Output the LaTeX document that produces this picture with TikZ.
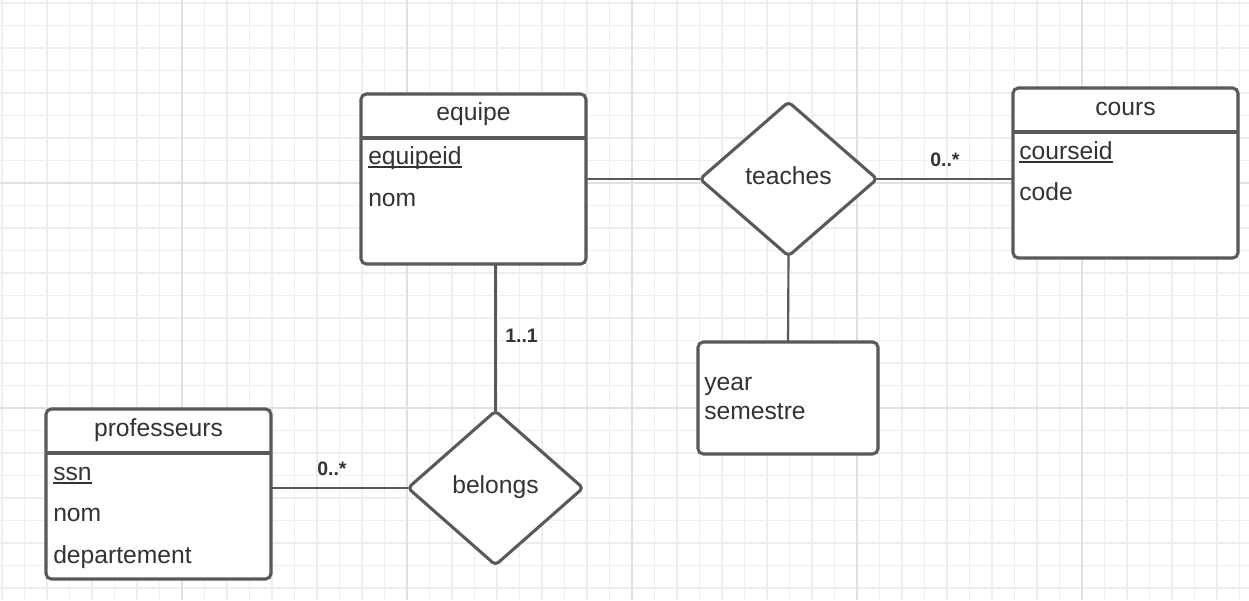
\documentclass[tikz,border=0pt]{standalone}
\usepackage{fontspec}
\setmainfont{Liberation Sans}
\usetikzlibrary{shapes.geometric}
\definecolor{edgegray}{HTML}{595959}
\definecolor{txtgray}{HTML}{333333}
\definecolor{gridminor}{HTML}{EEEEEE}
\definecolor{gridmajor}{HTML}{E0E0E0}

\begin{document}
\begin{tikzpicture}[x=0.75pt,y=-0.75pt,
  entity/.style={draw=edgegray, line width=2.3pt, fill=white, rounded corners=4pt,
    inner sep=0pt, outer sep=0pt, minimum width=168.75pt, minimum height=127.5pt},
  rel/.style={diamond, draw=edgegray, line width=2.3pt, fill=white, rounded corners=3pt,
    inner sep=0pt, outer sep=0pt, minimum height=115.5pt},
  txt/.style={text=txtgray, font=\fontsize{18.5}{22}\selectfont, inner sep=0pt},
  card/.style={text=txtgray, font=\fontsize{14.6}{16}\selectfont\bfseries, inner sep=0pt},
  link/.style={draw=edgegray, line width=1.6pt},
  key/.style={draw=txtgray, line width=1.1pt}]
  \useasboundingbox (0,0) rectangle (1249,600);
  \foreach \i in {0,...,55} \draw[gridminor, line width=1pt] (2+22.5*\i,0) -- (2+22.5*\i,600);
  \foreach \j in {0,...,26} \draw[gridminor, line width=1pt] (0,3+22.5*\j) -- (1249,3+22.5*\j);
  \foreach \i in {8,18,28,38,48} \draw[gridmajor, line width=1.3pt] (2+22.5*\i,0) -- (2+22.5*\i,600);
  \foreach \j in {8,18} \draw[gridmajor, line width=1.3pt] (0,3+22.5*\j) -- (1249,3+22.5*\j);

  \node[entity] (equipe) at (473.5,179) {};
  \node[entity] (cours) at (1125.5,173) {};
  \node[entity] (professeurs) at (158.5,494) {};
  \node[entity, minimum width=135pt, minimum height=84pt] (attrs) at (788,398) {};
  \node[rel, minimum width=132.75pt] (teaches) at (788.5,179) {};
  \node[rel, minimum width=131.25pt] (belongs) at (495.5,488) {};
  \foreach \e in {equipe,cours,professeurs}
    \draw[edgegray, line width=2.3pt] ([yshift=-33pt]\e.north west) -- ([yshift=-33pt]\e.north east);

  \node[txt, anchor=base] (equipe-t) at (473.5,120) {equipe};
  \node[txt, anchor=base west] (equipe-a1) at (368,164) {equipeid};
  \node[txt, anchor=base west] (equipe-a2) at (368,206) {nom};
  \node[txt, anchor=base] (cours-t) at (1125.5,115) {cours};
  \node[txt, anchor=base west] (cours-a1) at (1019,159) {courseid};
  \node[txt, anchor=base west] (cours-a2) at (1019,200) {code};
  \node[txt, anchor=base] (professeurs-t) at (158.5,436) {professeurs};
  \node[txt, anchor=base west] (professeurs-a1) at (53,480) {ssn};
  \node[txt, anchor=base west] (professeurs-a2) at (53,521) {nom};
  \node[txt, anchor=base west] (professeurs-a3) at (53,563) {departement};
  \node[txt, anchor=base west] (attrs-a1) at (704,390) {year};
  \node[txt, anchor=base west] (attrs-a2) at (704,419) {semestre};
  \node[txt, anchor=base] (teaches-t) at (788.5,184) {teaches};
  \node[txt, anchor=base] (belongs-t) at (495.5,493) {belongs};
  \foreach \k in {equipe-a1,cours-a1,professeurs-a1}
    \draw[key] ([yshift=-2.2pt]\k.base west) -- ([yshift=-2.2pt]\k.base east);

  \draw[link] (equipe.east |- teaches.west) -- (teaches.west);
  \draw[link] (teaches.east) -- (teaches.east -| cours.west);
  \draw[link] (teaches.south) -- (attrs.north);
  \draw[link] (belongs.north) -- (belongs.north |- equipe.south);
  \draw[link] (belongs.west) -- (belongs.west -| professeurs.east);
  \node[card, anchor=base west] (card-cours) at (930,166) {0..*};
  \node[card, anchor=base west] (card-equipe) at (505,342) {1..1};
  \node[card, anchor=base west] (card-prof) at (317,475) {0..*};
\end{tikzpicture}
\end{document}
